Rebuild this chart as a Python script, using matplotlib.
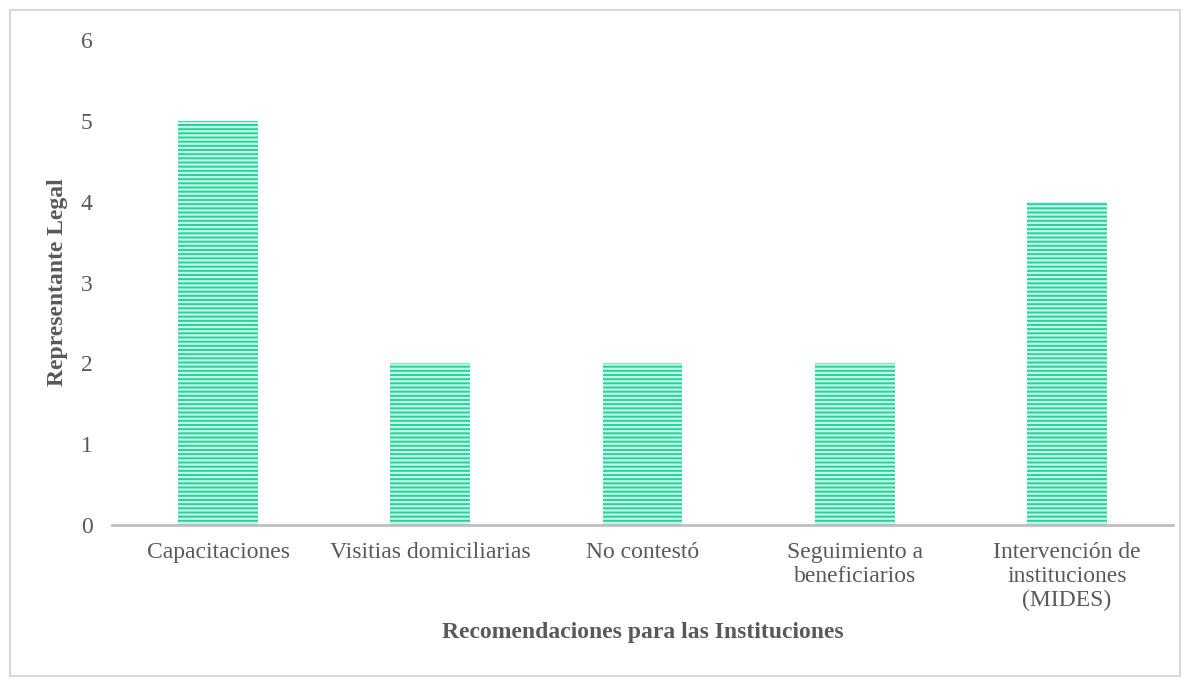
import matplotlib.pyplot as plt
from matplotlib.patches import Rectangle

plt.rcParams['font.family'] = ['Liberation Serif', 'DejaVu Serif']
plt.rcParams['hatch.linewidth'] = 1.6

categories = ['Capacitaciones', 'Visitias domiciliarias', 'No contestó',
              'Seguimiento a\nbeneficiarios', 'Intervención de\ninstituciones\n(MIDES)']
values = [5, 2, 2, 2, 4]

txt = '#595959'

fig = plt.figure(figsize=(11.9, 6.84), dpi=100)
ax = fig.add_axes([112 / 1190, 1 - 525 / 684, 1061 / 1190, 485 / 684])

ax.bar(range(len(categories)), values, width=0.377, color='#22d49c',
       edgecolor='#c8f5e5', linewidth=0, hatch='----')

ax.set_xlim(-0.5, len(categories) - 0.5)
ax.set_ylim(0, 6)
ax.set_yticks(range(7))
ax.set_xticks(range(len(categories)))
ax.set_xticklabels(categories, linespacing=1.2)
ax.tick_params(axis='both', length=0, labelsize=17, labelcolor=txt)
ax.tick_params(axis='y', pad=14)
ax.tick_params(axis='x', pad=12)

for s in ['top', 'right', 'left']:
    ax.spines[s].set_visible(False)
ax.spines['bottom'].set_color('#bfbfbf')
ax.spines['bottom'].set_linewidth(2)

ax.set_ylabel('Representante Legal', fontsize=17, fontweight='bold', color=txt, labelpad=9)
ax.set_xlabel('Recomendaciones para las Instituciones', fontsize=17, fontweight='bold',
              color=txt, labelpad=8)

fig.patches.append(Rectangle((10 / 1190, 8 / 684), 1170 / 1190, 666 / 684,
                             transform=fig.transFigure, fill=False,
                             edgecolor='#d9d9d9', linewidth=1.5))

fig.savefig('out.png', dpi=100)
